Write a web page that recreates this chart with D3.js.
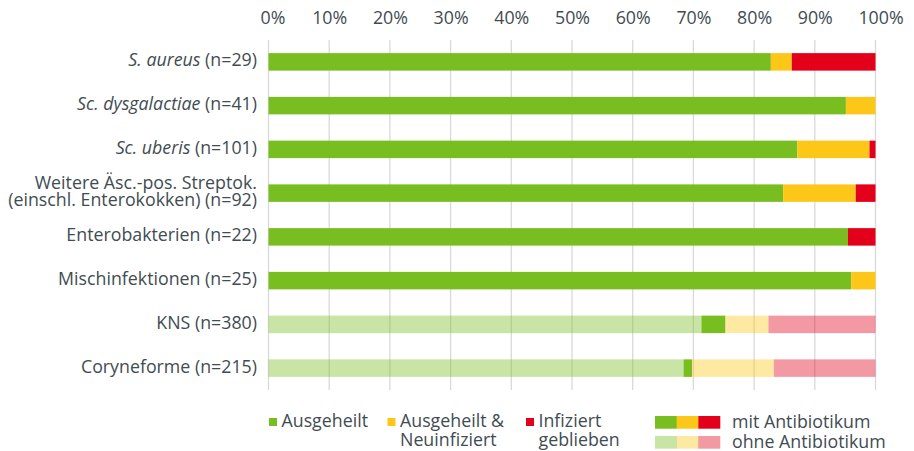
<!DOCTYPE html>
<html>
<head>
<meta charset="utf-8">
<script src="https://cdn.jsdelivr.net/npm/d3@7"></script>
<style>
  body { margin: 0; background: #fff; }
  text { font-family: "Open Sans", sans-serif; fill: #414c52; }
</style>
</head>
<body>
<div id="chart"></div>
<script>
// erreger (italic part + rest), n per row
const erregerKursiv = ["S. aureus", "Sc. dysgalactiae", "Sc. uberis", "", "", "", "", ""];
const erregerText = [" (n=29)", " (n=41)", " (n=101)", "Weitere Äsc.-pos. Streptok.|(einschl. Enterokokken) (n=92)",
  "Enterobakterien (n=22)", "Mischinfektionen (n=25)", "KNS (n=380)", "Coryneforme (n=215)"];
const nFaelle = [29, 41, 101, 92, 22, 25, 380, 215];

// counts per outcome; mit = with antibiotics, ohne = without
const ohneAusgeheilt  = [0, 0, 0, 0, 0, 0, 271, 147];
const mitAusgeheilt   = [24, 39, 88, 78, 21, 24, 15, 3];
const mitNeuinfiziert = [1, 2, 12, 11, 0, 1, 0, 0];
const ohneNeuinfiziert = [0, 0, 0, 0, 0, 0, 27, 29];
const mitInfiziert    = [4, 0, 1, 3, 1, 0, 0, 0];
const ohneInfiziert   = [0, 0, 0, 0, 0, 0, 67, 36];

const xTicks = [0, 0.1, 0.2, 0.3, 0.4, 0.5, 0.6, 0.7, 0.8, 0.9, 1];
const legendOutcome = [["Ausgeheilt"], ["Ausgeheilt &", "Neuinfiziert"], ["Infiziert", "geblieben"]];
const legendTherapie = ["mit Antibiotikum", "ohne Antibiotikum"];

const width = 914, height = 451;
const fs = "17.8px";
const green = "#78be20", yellow = "#fdc71a", red = "#e2001a";

const keys = ["ohneA", "mitA", "mitN", "ohneN", "mitI", "ohneI"];
const keyColor = { ohneA: green, mitA: green, mitN: yellow, ohneN: yellow, mitI: red, ohneI: red };
const keyOpacity = { ohneA: 0.4, mitA: 1, mitN: 1, ohneN: 0.4, mitI: 1, ohneI: 0.4 };

const rows = nFaelle.map((n, i) => ({
  id: i,
  ohneA: ohneAusgeheilt[i] / n, mitA: mitAusgeheilt[i] / n,
  mitN: mitNeuinfiziert[i] / n, ohneN: ohneNeuinfiziert[i] / n,
  mitI: mitInfiziert[i] / n, ohneI: ohneInfiziert[i] / n
}));

const x = d3.scaleLinear().domain([0, 1]).range([268.5, 875.5]);
const y = d3.scaleBand().domain(d3.range(rows.length)).range([40, 390]).paddingInner(0.6).paddingOuter(0.3);

const svg = d3.select("#chart").append("svg")
    .attr("width", width).attr("height", height);

// grid
svg.append("g")
  .selectAll("line")
  .data(xTicks)
  .join("line")
    .attr("x1", d => x(d)).attr("x2", d => x(d))
    .attr("y1", 40).attr("y2", 390)
    .attr("stroke", "#d9d9d9").attr("stroke-width", 1.3);

// axis labels on top
const axis = svg.append("g")
    .attr("transform", "translate(0,24)")
    .call(d3.axisTop(x).tickValues(xTicks).tickFormat(d3.format(".0%")).tickSize(0).tickPadding(0));
axis.select(".domain").remove();
axis.selectAll("text")
    .style("font-family", "'Open Sans', sans-serif")
    .style("font-size", fs)
    .attr("fill", "#414c52")
    .attr("dx", d => d === 0 ? 4 : d === 1 ? 5 : 0);

// bars
const series = d3.stack().keys(keys)(rows);
svg.append("g")
  .selectAll("g")
  .data(series)
  .join("g")
    .attr("fill", s => keyColor[s.key])
    .attr("fill-opacity", s => keyOpacity[s.key])
  .selectAll("rect")
  .data(s => s.filter(d => d[1] - d[0] > 0))
  .join("rect")
    .attr("x", d => x(d[0]))
    .attr("width", d => x(d[1]) - x(d[0]))
    .attr("y", d => y(d.data.id))
    .attr("height", y.bandwidth());

// category labels
const labels = svg.append("g")
    .attr("text-anchor", "end")
    .style("font-size", fs);
rows.forEach((r, i) => {
  const cy = y(i) + y.bandwidth() / 2;
  const parts = erregerText[i].split("|");
  if (parts.length > 1) {
    parts.forEach((p, j) => {
      labels.append("text").attr("x", 257).attr("y", cy - 3.7 + j * 16.8).text(p);
    });
  } else {
    const t = labels.append("text").attr("x", 257).attr("y", cy + 4.5);
    if (erregerKursiv[i]) t.append("tspan").attr("font-style", "italic").text(erregerKursiv[i]);
    t.append("tspan").text(parts[0]);
  }
});

// legend
const legend = svg.append("g").style("font-size", fs);
const legX = [269, 387.5, 526];
const legColors = [green, yellow, red];
legendOutcome.forEach((lines, i) => {
  legend.append("rect")
      .attr("x", legX[i]).attr("y", 418)
      .attr("width", 8).attr("height", 8)
      .attr("fill", legColors[i]);
  lines.forEach((l, j) => {
    legend.append("text")
        .attr("x", legX[i] + 12.5).attr("y", 427 + j * 18.7)
        .text(l);
  });
});

const sw = d3.scaleBand().domain(d3.range(3)).range([655, 720]);
legendTherapie.forEach((lab, j) => {
  legend.append("g")
    .selectAll("rect")
    .data(legColors)
    .join("rect")
      .attr("x", (c, k) => sw(k))
      .attr("y", 416 + j * 20)
      .attr("width", sw.bandwidth() + 0.3)
      .attr("height", 12.7)
      .attr("fill", c => c)
      .attr("fill-opacity", j === 0 ? 1 : 0.4);
  legend.append("text")
      .attr("x", 732).attr("y", 427.5 + j * 20)
      .text(lab);
});
</script>
</body>
</html>
